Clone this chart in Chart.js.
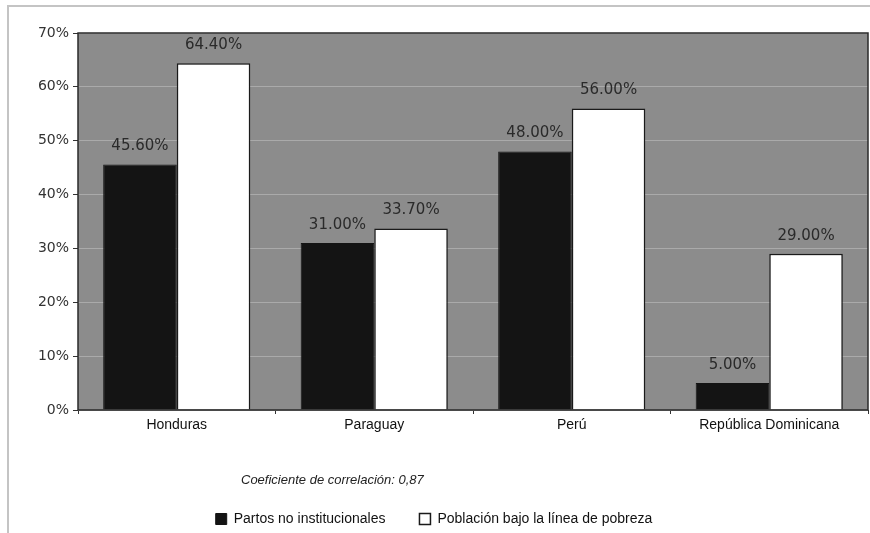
<!DOCTYPE html>
<html>
<head>
<meta charset="utf-8">
<script src="https://cdn.jsdelivr.net/npm/chart.js@4/dist/chart.umd.min.js"></script>
<style>
  body { margin: 0; background: #fff; }
  #wrap { position: relative; width: 870px; height: 533px; }
  #frame { position: absolute; left: 7px; top: 5px; right: 0; bottom: 0;
           border-top: 2px solid #c4c4c4; border-left: 2px solid #c4c4c4; }
  #myChart { position: absolute; left: 0; top: 0; }
</style>
</head>
<body>
<div id="wrap">
  <div id="frame"></div>
  <canvas id="myChart" width="870" height="533"></canvas>
</div>
<script>
// datos
const paises = ["Honduras", "Paraguay", "Perú", "República Dominicana"];
const partos = [45.6, 31.0, 48.0, 5.0];
const pobreza = [64.4, 33.7, 56.0, 29.0];
const yTicks = [0, 10, 20, 30, 40, 50, 60, 70];
const nota = "Coeficiente de correlación: 0,87";

const FONT = "'Liberation Sans Narrow', 'Liberation Sans', Arial, sans-serif";
const FONT_NUM = "'DejaVu Sans', 'Liberation Sans', sans-serif";

// fondo gris y marco del area de trazado
const plotArea = {
    id: 'plotArea',
    beforeDraw(chart) {
        const a = chart.chartArea, c = chart.ctx;
        c.save();
        c.fillStyle = '#8c8c8c';
        c.fillRect(a.left, a.top, a.right - a.left, a.bottom - a.top);
        c.restore();
    },
    afterDraw(chart) {
        const a = chart.chartArea, c = chart.ctx;
        c.save();
        c.strokeStyle = '#2a2a2a';
        c.lineWidth = 1.5;
        c.strokeRect(a.left, a.top, a.right - a.left, a.bottom - a.top);
        // nota del coeficiente
        c.fillStyle = '#222';
        c.font = "italic 13px " + FONT;
        c.textBaseline = 'middle';
        c.fillText(nota, 241, 480);
        c.restore();
    }
};

// etiquetas de valor sobre cada barra
const valueLabels = {
    id: 'valueLabels',
    afterDatasetsDraw(chart) {
        const c = chart.ctx;
        c.save();
        c.fillStyle = '#2a2a2a';
        c.font = "15px " + FONT_NUM;
        c.textAlign = 'center';
        c.textBaseline = 'middle';
        chart.data.datasets.forEach((ds, i) => {
            chart.getDatasetMeta(i).data.forEach((bar, j) => {
                c.fillText(ds.data[j].toFixed(2) + '%', bar.x, bar.y - 18);
            });
        });
        c.restore();
    }
};

let ctx = document.getElementById('myChart').getContext('2d');
let myChart = new Chart(ctx, {
    type: 'bar',
    data: {
        labels: paises,
        datasets: [{
            label: "Partos no institucionales",
            data: partos,
            backgroundColor: '#141414',
            borderColor: '#141414',
            borderWidth: 1
        }, {
            label: "Población bajo la línea de pobreza",
            data: pobreza,
            backgroundColor: '#fff',
            borderColor: '#1a1a1a',
            borderWidth: 1.5
        }]
    },
    options: {
        responsive: false,
        animation: false,
        layout: { padding: { left: 0, right: 2, top: 33, bottom: 0 } },
        datasets: { bar: { barPercentage: 1, categoryPercentage: 0.745 } },
        scales: {
            x: {
                grid: { display: true, drawOnChartArea: false, tickLength: 4, tickColor: '#333', offset: true },
                border: { display: false },
                ticks: { color: '#111', font: { family: FONT, size: 14 }, padding: 3 },
                afterFit: s => { s.height = 68; }
            },
            y: {
                min: 0, max: 70,
                afterBuildTicks: s => { s.ticks = yTicks.map(v => ({ value: v })); },
                grid: { color: '#aaaaaa', lineWidth: 1, tickLength: 5, tickColor: '#333' },
                border: { display: false },
                ticks: { color: '#333', font: { family: FONT_NUM, size: 14 }, padding: 4,
                         callback: v => v + '%' },
                afterFit: s => { s.width = 78; }
            }
        },
        plugins: {
            legend: {
                position: 'bottom',
                maxHeight: 55,
                labels: {
                    boxWidth: 11, boxHeight: 11, padding: 34,
                    color: '#111',
                    font: { family: FONT, size: 14 }
                }
            },
            tooltip: { enabled: false }
        }
    },
    plugins: [plotArea, valueLabels]
});
</script>
</body>
</html>
